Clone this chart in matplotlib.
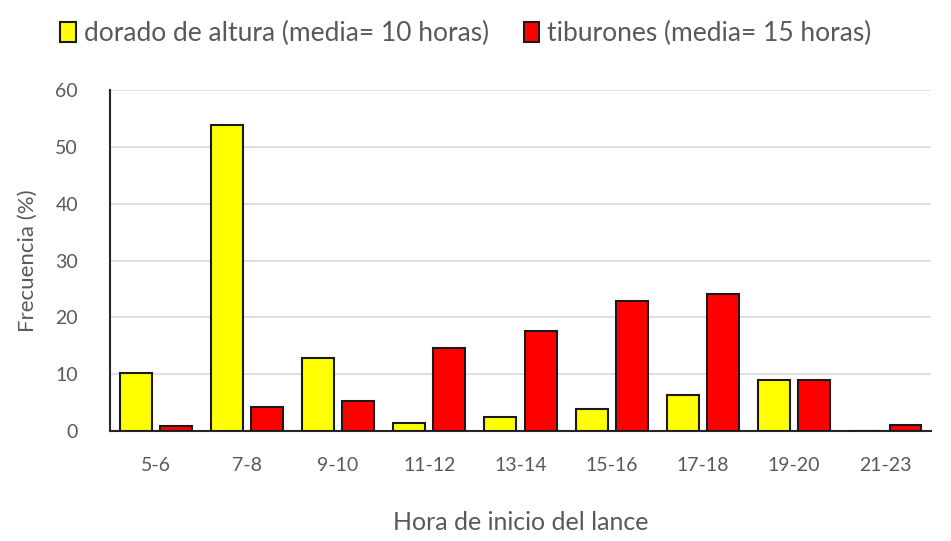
import matplotlib
matplotlib.use('Agg')
import matplotlib.pyplot as plt
import numpy as np

# DATA
horas = ['5-6', '7-8', '9-10', '11-12', '13-14', '15-16', '17-18', '19-20', '21-23']
dorado = [10.2, 53.9, 12.9, 1.4, 2.5, 3.9, 6.4, 8.9, 0]
tiburones = [0.9, 4.2, 5.3, 14.6, 17.6, 22.9, 24.1, 8.9, 1.0]

plt.rcParams['font.family'] = ['Lato', 'DejaVu Sans']
gris = '#595959'

fig = plt.figure(figsize=(9.51, 5.41), dpi=100)
ax = fig.add_axes([0.1157, 0.2033, 0.8633, 0.6303])

x = np.arange(len(horas))
w = 0.35
ax.bar(x - 0.22, dorado, w, color='#ffff00', edgecolor='#1a1a1a', linewidth=1.5,
       label='dorado de altura (media= 10 horas)', zorder=3)
ax.bar(x + 0.22, tiburones, w, color='#ff0000', edgecolor='#1a1a1a', linewidth=1.5,
       label='tiburones (media= 15 horas)', zorder=3)

ax.set_xlim(-0.5, len(horas) - 0.5)
ax.set_ylim(0, 60)
ax.set_yticks(range(0, 61, 10))
ax.set_xticks(x)
ax.set_xticklabels(horas)
ax.tick_params(axis='both', length=0, labelsize=14, colors=gris)
ax.tick_params(axis='x', pad=19)
ax.tick_params(axis='y', pad=23)
ax.yaxis.grid(True, color='#d9d9d9', linewidth=1.2, zorder=0)
for s in ['top', 'right']:
    ax.spines[s].set_visible(False)
ax.spines['left'].set_color('#262626')
ax.spines['bottom'].set_color('#262626')
ax.spines['left'].set_linewidth(1.5)
ax.spines['bottom'].set_linewidth(1.5)

ax.set_ylabel('Frecuencia (%)', fontsize=16, color=gris)
ax.yaxis.set_label_coords(-0.088, 0.5)
ax.set_xlabel('Hora de inicio del lance', fontsize=18, color=gris, labelpad=26)

fig.legend(loc='center', bbox_to_anchor=(0.49, 0.938), ncol=2, frameon=False,
           fontsize=19, labelcolor=gris, handlelength=0.6, handleheight=0.8,
           handletextpad=0.3, columnspacing=1.3)

fig.savefig('out.png', dpi=100)
